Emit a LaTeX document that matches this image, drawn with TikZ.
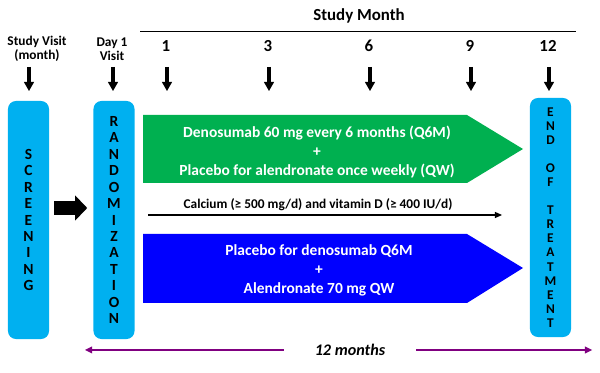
\documentclass[tikz,border=0pt]{standalone}
\usepackage{fontspec}
\setmainfont{Carlito}
\usetikzlibrary{arrows.meta}
\usetikzlibrary{calc}
\definecolor{visitcyan}{RGB}{0,176,240}
\definecolor{armgreen}{RGB}{0,176,80}
\definecolor{armblue}{RGB}{0,0,255}
\definecolor{spanpurple}{RGB}{128,0,128}
\newcommand{\gapline}{\mbox{}}

\begin{document}
\begin{tikzpicture}[x=0.025cm,y=-0.025cm,
    hdrlbl/.style={font=\bfseries\fontsize{12}{14}\selectfont},
    visitlbl/.style={font=\bfseries\fontsize{9.5}{10}\selectfont,align=center},
    visitbox/.style={fill=visitcyan,rounded corners=0.2cm,minimum width=1.025cm,
      minimum height=5.95cm,align=center,inner sep=0pt,
      font=\bfseries\fontsize{11}{11.7}\selectfont},
    visitarr/.style={line width=2.6pt,-{Triangle[length=6.4pt,width=7.3pt,line width=0pt]}},
    bigarr/.style={line width=0.35cm,-{Triangle[length=0.3cm,width=0.625cm,line width=0pt]}},
    armtext/.style={text=white,align=center,font=\bfseries\fontsize{11}{13.5}\selectfont},
    suppl/.style={line width=1pt,-{Triangle[length=5pt,width=4.5pt,line width=0pt]}},
    spanarr/.style={spanpurple,line width=1.4pt,-{Triangle[length=5pt,width=5pt,line width=0pt]}}]
    \useasboundingbox (0,0) rectangle (600,373);
    % Header
    \node[hdrlbl] (hdr) at (359,16) {Study Month};
    \draw[line width=0.7pt] (140,31) -- (576,31);
    \node[visitlbl] (sv) at (37,49) {Study Visit\\(month)};
    \node[visitlbl] (d1) at (112,49) {Day 1\\Visit};
    \draw[visitarr] (sv.center) ++(-8,18) -- ++(0,24);
    \draw[visitarr] (d1.center) ++(1,18) -- ++(0,24);
    \foreach \m/\x in {1/166,3/268,6/369,9/470,12/548} {
      \node[hdrlbl] (m\m) at (\x,46) {\m};
      \draw[visitarr] (m\m.center) ++(1,21) -- ++(0,24);
    }
    % Visit boxes
    \node[visitbox] (scr) at (28.5,220) {S\\C\\R\\E\\E\\N\\I\\N\\G};
    \node[visitbox] (rnd) at (114,220) {R\\A\\N\\D\\O\\M\\I\\Z\\A\\T\\I\\O\\N};
    \node[visitbox,minimum height=5.975cm,font=\bfseries\fontsize{9.5}{10}\selectfont]
      (eot) at (550.5,217.5)
      {E\\N\\D\\\gapline\\O\\F\\\gapline\\T\\R\\E\\A\\T\\M\\E\\N\\T};
    \draw[bigarr] ($(scr.east)+(5,-12)$) -- ($(rnd.west)+(-6,-12)$);
    % Treatment arms
    \fill[armgreen] (143,115) -- (467,115) -- (523,149) -- (467,183) -- (143,183) -- cycle;
    \node[armtext] (armA) at (317,152)
      {Denosumab 60 mg every 6 months (Q6M)\\+\\Placebo for alendronate once weekly (QW)};
    \node[font=\bfseries\fontsize{9.5}{11}\selectfont] (supp) at (318,205)
      {Calcium (≥ 500 mg/d) and vitamin D (≥ 400 IU/d)};
    \coordinate (suppL) at (148,215);
    \coordinate (suppR) at (502,215);
    \draw[suppl] (suppL) -- (suppR);
    \fill[armblue] (143,234) -- (467,234) -- (523,268) -- (467,303) -- (143,303) -- cycle;
    \node[armtext] (armB) at (319,270)
      {Placebo for denosumab Q6M\\+\\Alendronate 70 mg QW};
    % Duration
    \node[font=\bfseries\itshape\fontsize{11.5}{13}\selectfont,inner xsep=22pt] (span) at (350,350) {12 months};
    \coordinate (spanL) at (85,350);
    \coordinate (spanR) at (592,350);
    \draw[spanarr] (span) -- (spanL);
    \draw[spanarr] (span) -- (spanR);
\end{tikzpicture}
\end{document}
